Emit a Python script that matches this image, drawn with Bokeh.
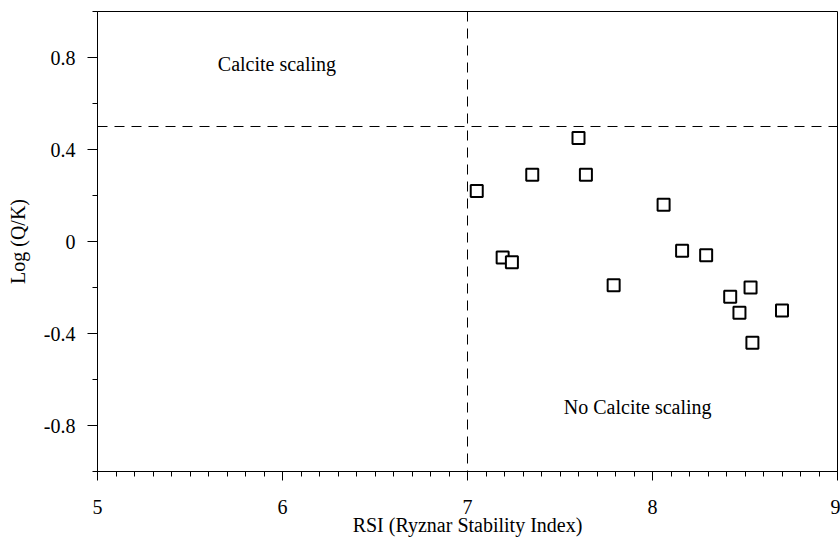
from bokeh.plotting import figure
from bokeh.models import Range1d, Span, FixedTicker, ColumnDataSource
from bokeh.core.properties import value
from bokeh.embed import file_html
from bokeh.resources import INLINE

# Data
rsi = [7.05, 7.19, 7.24, 7.35, 7.60, 7.64, 7.79, 8.06, 8.16, 8.29, 8.42, 8.47, 8.53, 8.54, 8.70]
log_qk = [0.22, -0.07, -0.09, 0.29, 0.45, 0.29, -0.19, 0.16, -0.04, -0.06, -0.24, -0.31, -0.20, -0.44, -0.30]

x_major = [5, 6, 7, 8, 9]
y_major = [-0.8, -0.4, 0, 0.4, 0.8]
y_major_labels = ["-0.8", "-0.4", "0", "0.4", "0.8"]
x_major_labels = ["5", "6", "7", "8", "9"]

rsi_threshold = 7.0
logqk_threshold = 0.5

region_labels = ["Calcite scaling", "No Calcite scaling"]
region_x = [5.97, 7.92]
region_y = [0.77, -0.72]

FONT = "Liberation Serif"

p = figure(width=840, height=541,
           x_range=Range1d(5, 9), y_range=Range1d(-1, 1),
           output_backend="svg", toolbar_location=None,
           min_border_left=97, min_border_right=3,
           min_border_top=11, min_border_bottom=70,
           background_fill_color="white", border_fill_color="white")

p.grid.visible = False
p.outline_line_color = "black"
p.outline_line_width = 1

# x axis
x_minor = [round(5 + i * 0.1, 2) for i in range(41)]
p.xaxis.ticker = FixedTicker(ticks=x_major, minor_ticks=x_minor)
p.xaxis.major_label_overrides = {v: l for v, l in zip(x_major, x_major_labels)}
p.xaxis.axis_label = "RSI (Ryznar Stability Index)"

# y axis
y_minor = [-1.0, -0.6, -0.2, 0.2, 0.6, 1.0]
p.yaxis.ticker = FixedTicker(ticks=y_major, minor_ticks=y_minor)
p.yaxis.major_label_overrides = {v: l for v, l in zip(y_major, y_major_labels)}
p.yaxis.axis_label = "Log (Q/K)"

for ax in (p.xaxis[0], p.yaxis[0]):
    ax.axis_line_color = "black"
    ax.major_tick_line_color = "black"
    ax.minor_tick_line_color = "black"
    ax.major_tick_in = 0
    ax.minor_tick_in = 0
    ax.major_label_text_font = FONT
    ax.major_label_text_font_size = "20px"
    ax.major_label_text_color = "black"
    ax.axis_label_text_font = FONT
    ax.axis_label_text_font_size = "20px"
    ax.axis_label_text_font_style = "normal"
    ax.axis_label_text_color = "black"

p.xaxis.major_tick_out = 9
p.xaxis.minor_tick_out = 5
p.xaxis.major_label_standoff = 19
p.xaxis.axis_label_standoff = -3

p.yaxis.major_tick_out = 10
p.yaxis.minor_tick_out = 5
p.yaxis.major_label_standoff = 12
p.yaxis.axis_label_standoff = 12
p.yaxis.major_label_orientation = "horizontal"

# threshold lines
p.add_layout(Span(location=rsi_threshold, dimension="height",
                  line_color="black", line_width=1, line_dash="10 7"))
p.add_layout(Span(location=logqk_threshold, dimension="width",
                  line_color="black", line_width=1, line_dash="10 7"))

src = ColumnDataSource(dict(x=rsi, y=log_qk))
p.scatter("x", "y", source=src, marker="square", size=12,
          fill_color="white", line_color="black", line_width=2)

p.text(x=region_x, y=region_y, text=region_labels,
       text_font=value(FONT), text_font_size="20px",
       text_align="center", text_baseline="middle", text_color="black")

open("out.html", "w").write(file_html(p, INLINE))
